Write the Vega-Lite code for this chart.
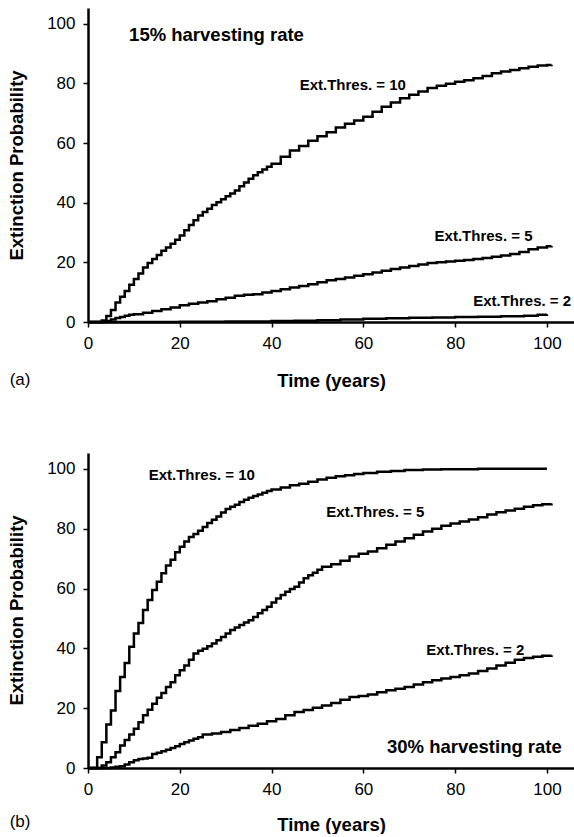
{
  "$schema": "https://vega.github.io/schema/vega-lite/v6.json",
  "autosize": {"type": "pad"},
  "padding": {"left": 7, "top": 8, "right": 0, "bottom": 0},
  "background": "white",
  "bounds": "flush",
  "spacing": 131,
  "config": {
    "font": "Liberation Sans",
    "view": {"stroke": null},
    "axis": {
      "grid": false,
      "domainColor": "black",
      "domainWidth": 2.5,
      "tickColor": "black",
      "tickWidth": 1.5,
      "tickSize": 5,
      "labelFont": "Liberation Sans",
      "labelFontSize": 17,
      "labelColor": "black",
      "labelPadding": 8,
      "labelFlush": false,
      "labelOverlap": false,
      "titleFont": "Liberation Sans",
      "titleFontSize": 18.5,
      "titleFontWeight": "bold",
      "titleColor": "black"
    }
  },
  "datasets": {
    "a": [
      {"t": 0, "p": 0, "thr": "10"}, {"t": 2, "p": 0, "thr": "10"}, {"t": 3, "p": 0.5, "thr": "10"}, {"t": 4, "p": 2, "thr": "10"}, {"t": 5, "p": 4, "thr": "10"}, {"t": 6, "p": 6.5, "thr": "10"}, {"t": 7, "p": 8.5, "thr": "10"}, {"t": 8, "p": 10.4, "thr": "10"}, {"t": 9, "p": 12.5, "thr": "10"}, {"t": 10, "p": 14.4, "thr": "10"}, {"t": 11, "p": 16.3, "thr": "10"}, {"t": 12, "p": 18.3, "thr": "10"}, {"t": 13, "p": 19.8, "thr": "10"}, {"t": 14, "p": 21.1, "thr": "10"}, {"t": 15, "p": 22.5, "thr": "10"}, {"t": 16, "p": 23.9, "thr": "10"}, {"t": 17, "p": 25, "thr": "10"}, {"t": 18, "p": 26.2, "thr": "10"}, {"t": 19, "p": 27.6, "thr": "10"}, {"t": 20, "p": 29, "thr": "10"}, {"t": 21, "p": 30.8, "thr": "10"}, {"t": 22, "p": 32.5, "thr": "10"}, {"t": 23, "p": 34.1, "thr": "10"}, {"t": 24, "p": 35.7, "thr": "10"}, {"t": 25, "p": 36.9, "thr": "10"}, {"t": 26, "p": 38, "thr": "10"}, {"t": 27, "p": 39.2, "thr": "10"}, {"t": 28, "p": 40.2, "thr": "10"}, {"t": 29, "p": 41.2, "thr": "10"}, {"t": 30, "p": 42.2, "thr": "10"}, {"t": 31, "p": 43.1, "thr": "10"}, {"t": 32, "p": 44.1, "thr": "10"}, {"t": 33, "p": 45.5, "thr": "10"}, {"t": 34, "p": 46.8, "thr": "10"}, {"t": 35, "p": 48, "thr": "10"}, {"t": 36, "p": 49.2, "thr": "10"}, {"t": 37, "p": 50.2, "thr": "10"}, {"t": 38, "p": 51.1, "thr": "10"}, {"t": 39, "p": 52.1, "thr": "10"}, {"t": 40, "p": 53.1, "thr": "10"}, {"t": 42, "p": 55.4, "thr": "10"}, {"t": 44, "p": 57.5, "thr": "10"}, {"t": 46, "p": 59, "thr": "10"}, {"t": 48, "p": 60.8, "thr": "10"}, {"t": 50, "p": 62.3, "thr": "10"}, {"t": 52, "p": 63.6, "thr": "10"}, {"t": 54, "p": 65.2, "thr": "10"}, {"t": 56, "p": 66.5, "thr": "10"}, {"t": 58, "p": 67.6, "thr": "10"}, {"t": 60, "p": 68.8, "thr": "10"}, {"t": 62, "p": 70.5, "thr": "10"}, {"t": 64, "p": 72.2, "thr": "10"}, {"t": 66, "p": 73.6, "thr": "10"}, {"t": 68, "p": 75, "thr": "10"}, {"t": 70, "p": 76.2, "thr": "10"}, {"t": 72, "p": 77.3, "thr": "10"}, {"t": 74, "p": 78.5, "thr": "10"}, {"t": 76, "p": 79.2, "thr": "10"}, {"t": 78, "p": 79.9, "thr": "10"}, {"t": 80, "p": 80.6, "thr": "10"}, {"t": 82, "p": 81.1, "thr": "10"}, {"t": 84, "p": 81.7, "thr": "10"}, {"t": 86, "p": 82.5, "thr": "10"}, {"t": 88, "p": 83.4, "thr": "10"}, {"t": 90, "p": 84, "thr": "10"}, {"t": 92, "p": 84.5, "thr": "10"}, {"t": 94, "p": 85.1, "thr": "10"}, {"t": 96, "p": 85.6, "thr": "10"}, {"t": 98, "p": 86, "thr": "10"}, {"t": 100, "p": 86.2, "thr": "10"}, {"t": 101, "p": 86.3, "thr": "10"},
      {"t": 0, "p": 0, "thr": "5"}, {"t": 3, "p": 0, "thr": "5"}, {"t": 4, "p": 0.3, "thr": "5"}, {"t": 5, "p": 0.8, "thr": "5"}, {"t": 6, "p": 1.3, "thr": "5"}, {"t": 7, "p": 1.7, "thr": "5"}, {"t": 8, "p": 2.1, "thr": "5"}, {"t": 9, "p": 2.4, "thr": "5"}, {"t": 10, "p": 2.6, "thr": "5"}, {"t": 12, "p": 3.1, "thr": "5"}, {"t": 14, "p": 3.7, "thr": "5"}, {"t": 16, "p": 4.3, "thr": "5"}, {"t": 18, "p": 4.9, "thr": "5"}, {"t": 20, "p": 5.6, "thr": "5"}, {"t": 22, "p": 6.1, "thr": "5"}, {"t": 24, "p": 6.5, "thr": "5"}, {"t": 26, "p": 7, "thr": "5"}, {"t": 28, "p": 7.6, "thr": "5"}, {"t": 30, "p": 8.1, "thr": "5"}, {"t": 32, "p": 8.8, "thr": "5"}, {"t": 34, "p": 9.1, "thr": "5"}, {"t": 36, "p": 9.3, "thr": "5"}, {"t": 38, "p": 9.9, "thr": "5"}, {"t": 40, "p": 10.4, "thr": "5"}, {"t": 42, "p": 11, "thr": "5"}, {"t": 44, "p": 11.6, "thr": "5"}, {"t": 46, "p": 12.1, "thr": "5"}, {"t": 48, "p": 12.7, "thr": "5"}, {"t": 50, "p": 13.3, "thr": "5"}, {"t": 52, "p": 14, "thr": "5"}, {"t": 54, "p": 14.4, "thr": "5"}, {"t": 56, "p": 14.9, "thr": "5"}, {"t": 58, "p": 15.5, "thr": "5"}, {"t": 60, "p": 16, "thr": "5"}, {"t": 62, "p": 16.6, "thr": "5"}, {"t": 64, "p": 17.2, "thr": "5"}, {"t": 66, "p": 17.8, "thr": "5"}, {"t": 68, "p": 18.3, "thr": "5"}, {"t": 70, "p": 18.8, "thr": "5"}, {"t": 72, "p": 19.3, "thr": "5"}, {"t": 74, "p": 19.8, "thr": "5"}, {"t": 76, "p": 20, "thr": "5"}, {"t": 78, "p": 20.3, "thr": "5"}, {"t": 80, "p": 20.5, "thr": "5"}, {"t": 82, "p": 20.8, "thr": "5"}, {"t": 84, "p": 21.1, "thr": "5"}, {"t": 86, "p": 21.5, "thr": "5"}, {"t": 88, "p": 21.9, "thr": "5"}, {"t": 90, "p": 22.3, "thr": "5"}, {"t": 92, "p": 22.8, "thr": "5"}, {"t": 94, "p": 23.5, "thr": "5"}, {"t": 96, "p": 24.4, "thr": "5"}, {"t": 98, "p": 25, "thr": "5"}, {"t": 100, "p": 25.4, "thr": "5"}, {"t": 101, "p": 25.5, "thr": "5"},
      {"t": 0, "p": 0, "thr": "2"}, {"t": 20, "p": 0.1, "thr": "2"}, {"t": 30, "p": 0.2, "thr": "2"}, {"t": 40, "p": 0.3, "thr": "2"}, {"t": 45, "p": 0.45, "thr": "2"}, {"t": 50, "p": 0.6, "thr": "2"}, {"t": 55, "p": 0.85, "thr": "2"}, {"t": 60, "p": 1.1, "thr": "2"}, {"t": 65, "p": 1.25, "thr": "2"}, {"t": 70, "p": 1.4, "thr": "2"}, {"t": 75, "p": 1.55, "thr": "2"}, {"t": 80, "p": 1.7, "thr": "2"}, {"t": 85, "p": 1.8, "thr": "2"}, {"t": 90, "p": 1.9, "thr": "2"}, {"t": 95, "p": 2.1, "thr": "2"}, {"t": 98, "p": 2.4, "thr": "2"}, {"t": 100, "p": 2.6, "thr": "2"}
    ],
    "b": [
      {"t": 0, "p": 0, "thr": "10"}, {"t": 1.4, "p": 0, "thr": "10"}, {"t": 2, "p": 3.6, "thr": "10"}, {"t": 3, "p": 8.6, "thr": "10"}, {"t": 4, "p": 14.5, "thr": "10"}, {"t": 5, "p": 19.2, "thr": "10"}, {"t": 6, "p": 25.7, "thr": "10"}, {"t": 7, "p": 30.4, "thr": "10"}, {"t": 8, "p": 35.1, "thr": "10"}, {"t": 9, "p": 40.5, "thr": "10"}, {"t": 10, "p": 45, "thr": "10"}, {"t": 11, "p": 48.5, "thr": "10"}, {"t": 12, "p": 52.8, "thr": "10"}, {"t": 13, "p": 56.2, "thr": "10"}, {"t": 14, "p": 59.5, "thr": "10"}, {"t": 15, "p": 62.3, "thr": "10"}, {"t": 16, "p": 65.1, "thr": "10"}, {"t": 17, "p": 67.7, "thr": "10"}, {"t": 18, "p": 69.6, "thr": "10"}, {"t": 19, "p": 72.1, "thr": "10"}, {"t": 20, "p": 74, "thr": "10"}, {"t": 21, "p": 75.7, "thr": "10"}, {"t": 22, "p": 77.2, "thr": "10"}, {"t": 23, "p": 78.2, "thr": "10"}, {"t": 24, "p": 79.3, "thr": "10"}, {"t": 25, "p": 80.6, "thr": "10"}, {"t": 26, "p": 81.9, "thr": "10"}, {"t": 27, "p": 83, "thr": "10"}, {"t": 28, "p": 84.1, "thr": "10"}, {"t": 29, "p": 85.4, "thr": "10"}, {"t": 30, "p": 86.6, "thr": "10"}, {"t": 31, "p": 87.3, "thr": "10"}, {"t": 32, "p": 88, "thr": "10"}, {"t": 33, "p": 88.9, "thr": "10"}, {"t": 34, "p": 89.7, "thr": "10"}, {"t": 35, "p": 90.3, "thr": "10"}, {"t": 36, "p": 90.9, "thr": "10"}, {"t": 37, "p": 91.4, "thr": "10"}, {"t": 38, "p": 92, "thr": "10"}, {"t": 39, "p": 92.6, "thr": "10"}, {"t": 40, "p": 93.1, "thr": "10"}, {"t": 42, "p": 93.8, "thr": "10"}, {"t": 44, "p": 94.5, "thr": "10"}, {"t": 46, "p": 95, "thr": "10"}, {"t": 48, "p": 95.7, "thr": "10"}, {"t": 50, "p": 96.4, "thr": "10"}, {"t": 52, "p": 97, "thr": "10"}, {"t": 54, "p": 97.5, "thr": "10"}, {"t": 56, "p": 97.9, "thr": "10"}, {"t": 58, "p": 98.3, "thr": "10"}, {"t": 60, "p": 98.6, "thr": "10"}, {"t": 63, "p": 99, "thr": "10"}, {"t": 66, "p": 99.3, "thr": "10"}, {"t": 69, "p": 99.6, "thr": "10"}, {"t": 73, "p": 99.8, "thr": "10"}, {"t": 77, "p": 99.9, "thr": "10"}, {"t": 85, "p": 100, "thr": "10"}, {"t": 100, "p": 100, "thr": "10"},
      {"t": 0, "p": 0, "thr": "5"}, {"t": 2, "p": 0, "thr": "5"}, {"t": 3, "p": 0.8, "thr": "5"}, {"t": 4, "p": 1.9, "thr": "5"}, {"t": 5, "p": 3.6, "thr": "5"}, {"t": 6, "p": 5.3, "thr": "5"}, {"t": 7, "p": 7.5, "thr": "5"}, {"t": 8, "p": 9.4, "thr": "5"}, {"t": 9, "p": 11.2, "thr": "5"}, {"t": 10, "p": 13.1, "thr": "5"}, {"t": 11, "p": 15.3, "thr": "5"}, {"t": 12, "p": 17.6, "thr": "5"}, {"t": 13, "p": 19.5, "thr": "5"}, {"t": 14, "p": 21.5, "thr": "5"}, {"t": 15, "p": 23.5, "thr": "5"}, {"t": 16, "p": 25.1, "thr": "5"}, {"t": 17, "p": 27.1, "thr": "5"}, {"t": 18, "p": 28.7, "thr": "5"}, {"t": 19, "p": 31, "thr": "5"}, {"t": 20, "p": 32.7, "thr": "5"}, {"t": 21, "p": 34.3, "thr": "5"}, {"t": 22, "p": 36.2, "thr": "5"}, {"t": 23, "p": 38.3, "thr": "5"}, {"t": 24, "p": 39.2, "thr": "5"}, {"t": 25, "p": 39.9, "thr": "5"}, {"t": 26, "p": 40.7, "thr": "5"}, {"t": 27, "p": 41.6, "thr": "5"}, {"t": 28, "p": 42.7, "thr": "5"}, {"t": 29, "p": 43.8, "thr": "5"}, {"t": 30, "p": 45, "thr": "5"}, {"t": 31, "p": 46.1, "thr": "5"}, {"t": 32, "p": 47, "thr": "5"}, {"t": 33, "p": 47.8, "thr": "5"}, {"t": 34, "p": 48.6, "thr": "5"}, {"t": 35, "p": 49.4, "thr": "5"}, {"t": 36, "p": 50.5, "thr": "5"}, {"t": 37, "p": 51.7, "thr": "5"}, {"t": 38, "p": 52.8, "thr": "5"}, {"t": 39, "p": 53.9, "thr": "5"}, {"t": 40, "p": 55.3, "thr": "5"}, {"t": 41, "p": 56.7, "thr": "5"}, {"t": 42, "p": 57.8, "thr": "5"}, {"t": 43, "p": 58.9, "thr": "5"}, {"t": 44, "p": 59.8, "thr": "5"}, {"t": 45, "p": 60.6, "thr": "5"}, {"t": 46, "p": 62, "thr": "5"}, {"t": 47, "p": 63.4, "thr": "5"}, {"t": 48, "p": 64.4, "thr": "5"}, {"t": 49, "p": 65.3, "thr": "5"}, {"t": 50, "p": 66.3, "thr": "5"}, {"t": 51, "p": 67.3, "thr": "5"}, {"t": 53, "p": 68.1, "thr": "5"}, {"t": 55, "p": 69.3, "thr": "5"}, {"t": 57, "p": 70.7, "thr": "5"}, {"t": 59, "p": 71.6, "thr": "5"}, {"t": 61, "p": 72.4, "thr": "5"}, {"t": 63, "p": 73.5, "thr": "5"}, {"t": 65, "p": 74.6, "thr": "5"}, {"t": 67, "p": 75.7, "thr": "5"}, {"t": 69, "p": 76.8, "thr": "5"}, {"t": 71, "p": 78, "thr": "5"}, {"t": 73, "p": 79.1, "thr": "5"}, {"t": 75, "p": 80, "thr": "5"}, {"t": 77, "p": 81, "thr": "5"}, {"t": 79, "p": 81.7, "thr": "5"}, {"t": 81, "p": 82.4, "thr": "5"}, {"t": 83, "p": 83.1, "thr": "5"}, {"t": 85, "p": 83.8, "thr": "5"}, {"t": 87, "p": 84.7, "thr": "5"}, {"t": 89, "p": 85.5, "thr": "5"}, {"t": 91, "p": 86.1, "thr": "5"}, {"t": 93, "p": 86.7, "thr": "5"}, {"t": 95, "p": 87.3, "thr": "5"}, {"t": 97, "p": 87.8, "thr": "5"}, {"t": 99, "p": 88.2, "thr": "5"}, {"t": 101, "p": 88.4, "thr": "5"},
      {"t": 0, "p": 0, "thr": "2"}, {"t": 4, "p": 0, "thr": "2"}, {"t": 5, "p": 0.2, "thr": "2"}, {"t": 6, "p": 0.4, "thr": "2"}, {"t": 7, "p": 0.6, "thr": "2"}, {"t": 8, "p": 1.2, "thr": "2"}, {"t": 9, "p": 1.9, "thr": "2"}, {"t": 10, "p": 2.6, "thr": "2"}, {"t": 11, "p": 3, "thr": "2"}, {"t": 12, "p": 3.2, "thr": "2"}, {"t": 13, "p": 3.4, "thr": "2"}, {"t": 14, "p": 4.7, "thr": "2"}, {"t": 15, "p": 5.1, "thr": "2"}, {"t": 16, "p": 5.6, "thr": "2"}, {"t": 17, "p": 6.1, "thr": "2"}, {"t": 18, "p": 6.7, "thr": "2"}, {"t": 19, "p": 7.3, "thr": "2"}, {"t": 20, "p": 8, "thr": "2"}, {"t": 21, "p": 8.6, "thr": "2"}, {"t": 22, "p": 9.2, "thr": "2"}, {"t": 23, "p": 9.8, "thr": "2"}, {"t": 24, "p": 10.3, "thr": "2"}, {"t": 25, "p": 11.2, "thr": "2"}, {"t": 27, "p": 11.5, "thr": "2"}, {"t": 29, "p": 12, "thr": "2"}, {"t": 31, "p": 12.7, "thr": "2"}, {"t": 33, "p": 13.4, "thr": "2"}, {"t": 35, "p": 14.1, "thr": "2"}, {"t": 37, "p": 14.8, "thr": "2"}, {"t": 39, "p": 15.6, "thr": "2"}, {"t": 41, "p": 16.4, "thr": "2"}, {"t": 43, "p": 17.6, "thr": "2"}, {"t": 45, "p": 18.7, "thr": "2"}, {"t": 47, "p": 19.4, "thr": "2"}, {"t": 49, "p": 20.1, "thr": "2"}, {"t": 51, "p": 20.9, "thr": "2"}, {"t": 53, "p": 21.7, "thr": "2"}, {"t": 55, "p": 22.8, "thr": "2"}, {"t": 57, "p": 23.7, "thr": "2"}, {"t": 59, "p": 24.1, "thr": "2"}, {"t": 61, "p": 24.6, "thr": "2"}, {"t": 63, "p": 25.3, "thr": "2"}, {"t": 65, "p": 26, "thr": "2"}, {"t": 67, "p": 26.5, "thr": "2"}, {"t": 69, "p": 27.1, "thr": "2"}, {"t": 71, "p": 27.9, "thr": "2"}, {"t": 73, "p": 28.7, "thr": "2"}, {"t": 75, "p": 29.3, "thr": "2"}, {"t": 77, "p": 29.9, "thr": "2"}, {"t": 79, "p": 30.4, "thr": "2"}, {"t": 81, "p": 31, "thr": "2"}, {"t": 83, "p": 31.6, "thr": "2"}, {"t": 85, "p": 32.4, "thr": "2"}, {"t": 87, "p": 33.3, "thr": "2"}, {"t": 89, "p": 34.3, "thr": "2"}, {"t": 91, "p": 35.2, "thr": "2"}, {"t": 93, "p": 36.2, "thr": "2"}, {"t": 95, "p": 36.8, "thr": "2"}, {"t": 97, "p": 37.2, "thr": "2"}, {"t": 99, "p": 37.5, "thr": "2"}, {"t": 101, "p": 37.7, "thr": "2"}
    ],
    "labA": [
      {"t": 57.7, "p": 79.4, "label": "Ext.Thres. = 10"},
      {"t": 86.2, "p": 28.7, "label": "Ext.Thres. = 5"},
      {"t": 94.6, "p": 6.9, "label": "Ext.Thres. = 2"}
    ],
    "labB": [
      {"t": 24.8, "p": 98.1, "label": "Ext.Thres. = 10"},
      {"t": 62.6, "p": 85.5, "label": "Ext.Thres. = 5"},
      {"t": 84.4, "p": 39.6, "label": "Ext.Thres. = 2"}
    ],
    "headA": [{"t": 28, "p": 96.1, "label": "15% harvesting rate"}],
    "headB": [{"t": 84.2, "p": 6.9, "label": "30% harvesting rate"}],
    "tagA": [{"t": -14.8, "p": -19.6, "label": "(a)"}],
    "tagB": [{"t": -14.8, "p": -18.2, "label": "(b)"}]
  },
  "vconcat": [
    {
      "width": 486,
      "height": 314,
      "encoding": {
        "x": {"field": "t", "type": "quantitative", "scale": {"domain": [0, 105.9], "nice": false},
              "axis": {"title": "Time (years)", "values": [0, 20, 40, 60, 80, 100], "titleY": 58, "titleBaseline": "middle"}},
        "y": {"field": "p", "type": "quantitative", "scale": {"domain": [0, 105.3], "nice": false},
              "axis": {"title": "Extinction Probability", "values": [0, 20, 40, 60, 80, 100], "titleX": -72, "titleY": 157, "titleAngle": -90, "titleAlign": "center", "titleBaseline": "middle"}}
      },
      "layer": [
        {"data": {"name": "a"}, "mark": {"type": "line", "interpolate": "step-after", "color": "black", "strokeWidth": 2.5}, "encoding": {"detail": {"field": "thr"}}},
        {"data": {"name": "labA"}, "mark": {"type": "text", "fontWeight": "bold", "fontSize": 15, "color": "black", "align": "center", "baseline": "middle"}, "encoding": {"text": {"field": "label"}}},
        {"data": {"name": "headA"}, "mark": {"type": "text", "fontWeight": "bold", "fontSize": 18.5, "color": "black", "align": "center", "baseline": "middle"}, "encoding": {"text": {"field": "label"}}},
        {"data": {"name": "tagA"}, "mark": {"type": "text", "fontSize": 17, "color": "black", "align": "center", "baseline": "middle"}, "encoding": {"text": {"field": "label"}}}
      ]
    },
    {
      "width": 486,
      "height": 315,
      "encoding": {
        "x": {"field": "t", "type": "quantitative", "scale": {"domain": [0, 105.9], "nice": false},
              "axis": {"title": "Time (years)", "values": [0, 20, 40, 60, 80, 100], "titleY": 56, "titleBaseline": "middle"}},
        "y": {"field": "p", "type": "quantitative", "scale": {"domain": [0, 105.3], "nice": false},
              "axis": {"title": "Extinction Probability", "values": [0, 20, 40, 60, 80, 100], "titleX": -72, "titleY": 157, "titleAngle": -90, "titleAlign": "center", "titleBaseline": "middle"}}
      },
      "layer": [
        {"data": {"name": "b"}, "mark": {"type": "line", "interpolate": "step-after", "color": "black", "strokeWidth": 2.5}, "encoding": {"detail": {"field": "thr"}}},
        {"data": {"name": "labB"}, "mark": {"type": "text", "fontWeight": "bold", "fontSize": 15, "color": "black", "align": "center", "baseline": "middle"}, "encoding": {"text": {"field": "label"}}},
        {"data": {"name": "headB"}, "mark": {"type": "text", "fontWeight": "bold", "fontSize": 18.5, "color": "black", "align": "center", "baseline": "middle"}, "encoding": {"text": {"field": "label"}}},
        {"data": {"name": "tagB"}, "mark": {"type": "text", "fontSize": 17, "color": "black", "align": "center", "baseline": "middle"}, "encoding": {"text": {"field": "label"}}}
      ]
    }
  ]
}
